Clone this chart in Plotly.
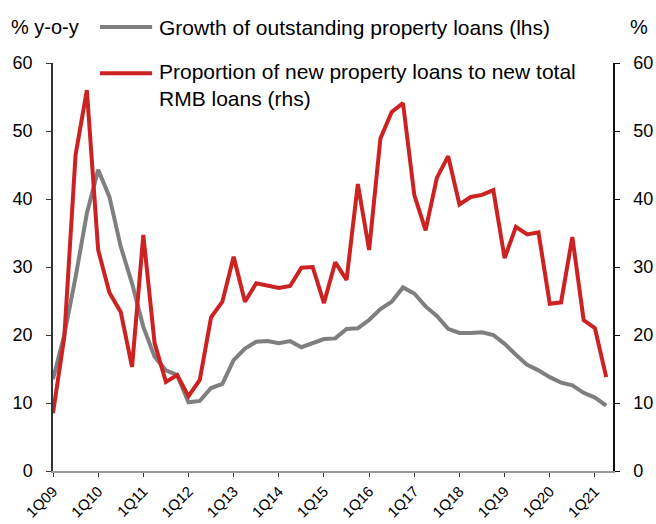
import plotly.graph_objects as go

# Quarterly periods 1Q09 .. 2Q21
quarters = [f"{q}Q{y % 100:02d}" for y in range(2009, 2022) for q in range(1, 5)][:50]

# Growth of outstanding property loans, % y-o-y (left axis)
growth_outstanding = [
    13.5, 20.0, 28.5, 37.9, 44.3, 40.3, 33.0, 27.6, 21.2, 16.8,
    14.8, 14.1, 10.1, 10.3, 12.2, 12.8, 16.3, 18.0, 19.0, 19.1,
    18.8, 19.1, 18.2, 18.8, 19.4, 19.5, 20.9, 21.0, 22.2, 23.8,
    24.9, 27.0, 26.1, 24.2, 22.8, 20.9, 20.3, 20.3, 20.4, 20.0,
    18.7, 17.1, 15.6, 14.8, 13.8, 13.0, 12.6, 11.5, 10.8, 9.6,
]

# Proportion of new property loans to new total RMB loans, % (right axis)
share_new_loans = [
    8.5, 19.7, 46.5, 56.0, 32.5, 26.2, 23.4, 15.3, 34.7, 18.8,
    13.1, 14.1, 11.0, 13.4, 22.6, 24.9, 31.5, 24.9, 27.6, 27.2,
    26.9, 27.2, 29.9, 30.0, 24.7, 30.7, 28.1, 42.2, 32.5, 48.9,
    52.8, 54.1, 40.6, 35.4, 43.1, 46.3, 39.2, 40.3, 40.6, 41.3,
    31.3, 35.9, 34.8, 35.1, 24.6, 24.8, 34.4, 22.2, 21.0, 13.8,
]

tick_labels = [f"1Q{y % 100:02d}" for y in range(2009, 2022)]
y_ticks = [0, 10, 20, 30, 40, 50, 60]

GRAY = "#7f7f7f"
RED = "#cc2222"
FONT = "Liberation Sans, Arial, sans-serif"

fig = go.Figure()
fig.add_trace(go.Scatter(
    x=quarters, y=growth_outstanding, mode="lines",
    line=dict(color=GRAY, width=4), yaxis="y",
    name="Growth of outstanding property loans (lhs)", showlegend=False,
))
fig.add_trace(go.Scatter(
    x=quarters, y=share_new_loans, mode="lines",
    line=dict(color=RED, width=4), yaxis="y2",
    name="Proportion of new property loans to new total RMB loans (rhs)",
    showlegend=False,
))

fig.update_layout(
    width=656, height=524,
    margin=dict(l=53, r=43, t=63, b=53),
    paper_bgcolor="white", plot_bgcolor="white",
    font=dict(family=FONT, size=18, color="#000000"),
    xaxis=dict(
        type="category", categoryorder="array", categoryarray=quarters,
        range=[0, 49.6], tickmode="array", tickvals=tick_labels, ticktext=tick_labels,
        tickangle=-45, ticks="outside", ticklen=4, tickcolor="#333333",
        showline=True, linecolor="#999999", linewidth=1.5, automargin=False,
        showgrid=False, zeroline=False, tickfont=dict(size=15), ticklabelstandoff=0,
    ),
    yaxis=dict(
        range=[0, 60], tickvals=y_ticks, ticks="outside", ticklen=5,
        tickcolor="#333333", showline=True, linecolor="#333333", linewidth=1.5,
        showgrid=False, zeroline=False, ticklabelstandoff=10, automargin=False,
    ),
    yaxis2=dict(
        range=[0, 60], tickvals=y_ticks, overlaying="y", side="right",
        ticks="outside", ticklen=5, tickcolor="#111111", showline=True,
        linecolor="#111111", linewidth=1.5, showgrid=False, zeroline=False,
        ticklabelstandoff=10, automargin=False,
    ),
)

# Unit labels above each axis
fig.add_annotation(text="% y-o-y", xref="paper", yref="paper", x=-0.078, y=1.088,
                   xanchor="left", yanchor="middle", showarrow=False, font=dict(size=20))
fig.add_annotation(text="%", xref="paper", yref="paper", x=1.027, y=1.088,
                   xanchor="left", yanchor="middle", showarrow=False, font=dict(size=20))

# Legend keys and labels
legend_items = [
    (GRAY, "Growth of outstanding property loans (lhs)", 1.088, 1.088),
    (RED, "Proportion of new property loans to new total<br>RMB loans (rhs)", 0.975, 0.946),
]
for color, label, key_y, text_y in legend_items:
    fig.add_shape(type="line", xref="paper", yref="paper", x0=0.084, x1=0.177,
                  y0=key_y, y1=key_y, line=dict(color=color, width=4))
    fig.add_annotation(text=label, xref="paper", yref="paper", x=0.185, y=text_y,
                       xanchor="left", yanchor="middle", align="left", showarrow=False,
                       font=dict(size=21))

fig.write_html("out.html")
